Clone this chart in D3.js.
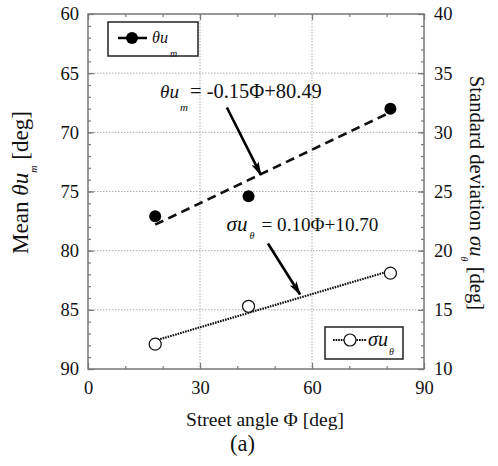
<!DOCTYPE html>
<html><head><meta charset="utf-8">
<script src="https://cdn.jsdelivr.net/npm/d3@7"></script>
<style>
body{margin:0;background:#fff;}
text{font-family:"Liberation Serif","Times New Roman",serif;fill:#111;}
</style></head>
<body><svg id="c" width="498" height="466"></svg>
<script>
const phi = [18, 43, 81];
const thetaMean = [77.1, 75.4, 68.0];
const sigmaStd = [12.1, 15.3, 18.1];
const fitPhi = [18, 81];
const thetaFit = [77.8, 68.3];
const sigmaFit = [12.4, 18.3];
const xTicks = [0, 30, 60, 90];
const leftTicks = [60, 65, 70, 75, 80, 85, 90];
const rightTicks = [10, 15, 20, 25, 30, 35, 40];

const svg = d3.select("#c");
const L = 88, T = 14, W = 336, H = 355;
const x = d3.scaleLinear().domain([0, 90]).range([L, L + W]);
const yL = d3.scaleLinear().domain([60, 90]).range([T, T + H]);
const yR = d3.scaleLinear().domain([10, 40]).range([T + H, T]);

function fit(sel, target) {
  const n = sel.node();
  const fs = parseFloat(sel.style("font-size"));
  const w = n.getComputedTextLength();
  const nf = fs * target / w;
  sel.style("font-size", nf + "px");
  return nf;
}

// grid
const g = svg.append("g");
xTicks.slice(1, -1).forEach(v => g.append("line").attr("x1", x(v)).attr("x2", x(v)).attr("y1", T).attr("y2", T + H)
  .attr("stroke", "#aaa").attr("stroke-width", 1).attr("stroke-dasharray", "1.5,1.5"));
leftTicks.slice(1, -1).forEach(v => g.append("line").attr("x1", L).attr("x2", L + W).attr("y1", yL(v)).attr("y2", yL(v))
  .attr("stroke", "#aaa").attr("stroke-width", 1).attr("stroke-dasharray", "1.5,1.5"));

const probe = svg.append("text").style("font-size", "16px").text("30");
const tickFS = fit(probe, 18.5);
probe.remove();

const axColor = "#777";
function styleAxis(sel) {
  sel.select(".domain").remove();
  sel.selectAll(".tick line").attr("stroke", axColor).attr("stroke-width", 1.2);
  sel.selectAll(".tick text").style("font-family", '"Liberation Serif","Times New Roman",serif').style("font-size", tickFS + "px").attr("fill", "#111");
}
const minorX = d3.range(0, 91, 10), minorL = d3.range(60, 91, 1), minorR = d3.range(10, 41, 1);
svg.append("g").attr("transform", `translate(0,${T + H})`).call(d3.axisBottom(x).tickValues(minorX).tickFormat("").tickSizeInner(-3).tickSizeOuter(0)).call(styleAxis);
svg.append("g").attr("transform", `translate(0,${T + H})`).call(d3.axisBottom(x).tickValues(xTicks).tickSizeInner(-6).tickSizeOuter(0).tickPadding(12)).call(styleAxis);
svg.append("g").attr("transform", `translate(0,${T})`).call(d3.axisTop(x).tickValues(minorX).tickFormat("").tickSizeInner(-3).tickSizeOuter(0)).call(styleAxis);
svg.append("g").attr("transform", `translate(0,${T})`).call(d3.axisTop(x).tickValues(xTicks).tickFormat("").tickSizeInner(-6).tickSizeOuter(0)).call(styleAxis);
svg.append("g").attr("transform", `translate(${L},0)`).call(d3.axisLeft(yL).tickValues(minorL).tickFormat("").tickSizeInner(-3).tickSizeOuter(0)).call(styleAxis);
svg.append("g").attr("transform", `translate(${L},0)`).call(d3.axisLeft(yL).tickValues(leftTicks).tickSizeInner(-6).tickSizeOuter(0).tickPadding(9)).call(styleAxis);
svg.append("g").attr("transform", `translate(${L + W},0)`).call(d3.axisRight(yR).tickValues(minorR).tickFormat("").tickSizeInner(-3).tickSizeOuter(0)).call(styleAxis);
svg.append("g").attr("transform", `translate(${L + W},0)`).call(d3.axisRight(yR).tickValues(rightTicks).tickSizeInner(-6).tickSizeOuter(0).tickPadding(10)).call(styleAxis);

svg.append("rect").attr("x", L).attr("y", T).attr("width", W).attr("height", H)
  .attr("fill", "none").attr("stroke", axColor).attr("stroke-width", 1.5);

// fit lines
const lineL = d3.line().x((d, i) => x(fitPhi[i])).y(d => yL(d));
const lineR = d3.line().x((d, i) => x(fitPhi[i])).y(d => yR(d));
svg.append("path").attr("d", lineL(thetaFit)).attr("fill", "none").attr("stroke", "#111")
  .attr("stroke-width", 2.6).attr("stroke-dasharray", "9,5.5");
svg.append("path").attr("d", lineR(sigmaFit)).attr("fill", "none").attr("stroke", "#111")
  .attr("stroke-width", 2.2).attr("stroke-dasharray", "1.6,1");

// points
svg.selectAll(".pm").data(phi).enter().append("circle")
  .attr("cx", d => x(d)).attr("cy", (d, i) => yL(thetaMean[i])).attr("r", 6).attr("fill", "#000");
svg.selectAll(".ps").data(phi).enter().append("circle")
  .attr("cx", d => x(d)).attr("cy", (d, i) => yR(sigmaStd[i])).attr("r", 6)
  .attr("fill", "#fff").attr("stroke", "#111").attr("stroke-width", 1.2);

// arrows
const defs = svg.append("defs");
defs.append("marker").attr("id", "ah").attr("viewBox", "0 0 14 8").attr("refX", 13).attr("refY", 4)
  .attr("markerWidth", 14).attr("markerHeight", 8).attr("markerUnits", "userSpaceOnUse").attr("orient", "auto")
  .append("path").attr("d", "M0,0 L14,4 L0,8 L3,4 Z").attr("fill", "#000");
function arrow(x1, y1, x2, y2) {
  svg.append("line").attr("x1", x1).attr("y1", y1).attr("x2", x2).attr("y2", y2)
    .attr("stroke", "#000").attr("stroke-width", 2.6).attr("marker-end", "url(#ah)");
}
arrow(x(37.2), yL(67.9), x(46.3), yL(73.6));
arrow(x(48.2), yR(20.6), x(56.8), yR(16.3));

function sym(px, py, main, sub, mainW, subDx, subDy, subFS) {
  const t = svg.append("text").attr("x", px).attr("y", py).style("font-size", "18px").style("font-style", "italic").text(main);
  fit(t, mainW);
  svg.append("text").attr("x", px + subDx).attr("y", py + subDy).style("font-size", subFS + "px").style("font-style", "italic").text(sub);
}
sym(160, 98, "θu", "m", 19, 20, 13, 11);
fit(svg.append("text").attr("x", 190).attr("y", 98).style("font-size", "18px").text("= -0.15Φ+80.49"), 132);
sym(226.5, 231, "σu", "θ", 21, 23, 8, 10);
fit(svg.append("text").attr("x", 261.5).attr("y", 231).style("font-size", "18px").text("= 0.10Φ+10.70"), 117);

// legend 1
svg.append("rect").attr("x", 108).attr("y", 22).attr("width", 90).attr("height", 34).attr("fill", "#fff").attr("stroke", "#222").attr("stroke-width", 1.5);
svg.append("line").attr("x1", 118).attr("x2", 147).attr("y1", 38).attr("y2", 38).attr("stroke", "#000").attr("stroke-width", 2.5);
svg.append("circle").attr("cx", 132).attr("cy", 38).attr("r", 6).attr("fill", "#000");
sym(152, 43, "θu", "m", 16, 18, 14, 10);

// legend 2
svg.append("rect").attr("x", 325).attr("y", 327).attr("width", 78).attr("height", 32).attr("fill", "#fff").attr("stroke", "#222").attr("stroke-width", 1.5);
svg.append("line").attr("x1", 333).attr("x2", 367).attr("y1", 340).attr("y2", 340).attr("stroke", "#000").attr("stroke-width", 2).attr("stroke-dasharray", "1.6,1");
svg.append("circle").attr("cx", 350).attr("cy", 340).attr("r", 6).attr("fill", "#fff").attr("stroke", "#111").attr("stroke-width", 1.2);
sym(368, 346, "σu", "θ", 20, 21, 9, 10);

// axis titles
const ltFS = tickFS;
const lt = svg.append("text").attr("transform", `translate(28,182.5) rotate(-90)`).attr("text-anchor", "middle").style("font-size", ltFS + "px");
lt.append("tspan").text("Mean ");
lt.append("tspan").style("font-style", "italic").text("θu");
lt.append("tspan").style("font-style", "italic").style("font-size", "10px").attr("dy", 9).text("m");
lt.append("tspan").attr("dy", -9).text("  [deg]");
fit(lt, 145);
lt.selectAll("tspan").filter((d, i) => i === 2).style("font-size", "10px");

const rt = svg.append("text").attr("transform", `translate(470,193) rotate(90)`).attr("text-anchor", "middle").style("font-size", ltFS + "px");
rt.append("tspan").text("Standard deviation ");
rt.append("tspan").style("font-style", "italic").text("σu");
rt.append("tspan").style("font-style", "italic").style("font-size", "10px").attr("dy", 9).text("θ");
rt.append("tspan").attr("dy", -9).text("  [deg]");
fit(rt, 235);
rt.selectAll("tspan").filter((d, i) => i === 2).style("font-size", "10px");

fit(svg.append("text").attr("x", 265).attr("y", 426).attr("text-anchor", "middle").style("font-size", "16px").text("Street angle Φ [deg]"), 158);
fit(svg.append("text").attr("x", 242.5).attr("y", 451).attr("text-anchor", "middle").style("font-size", "18px").text("(a)"), 25);
</script></body></html>
